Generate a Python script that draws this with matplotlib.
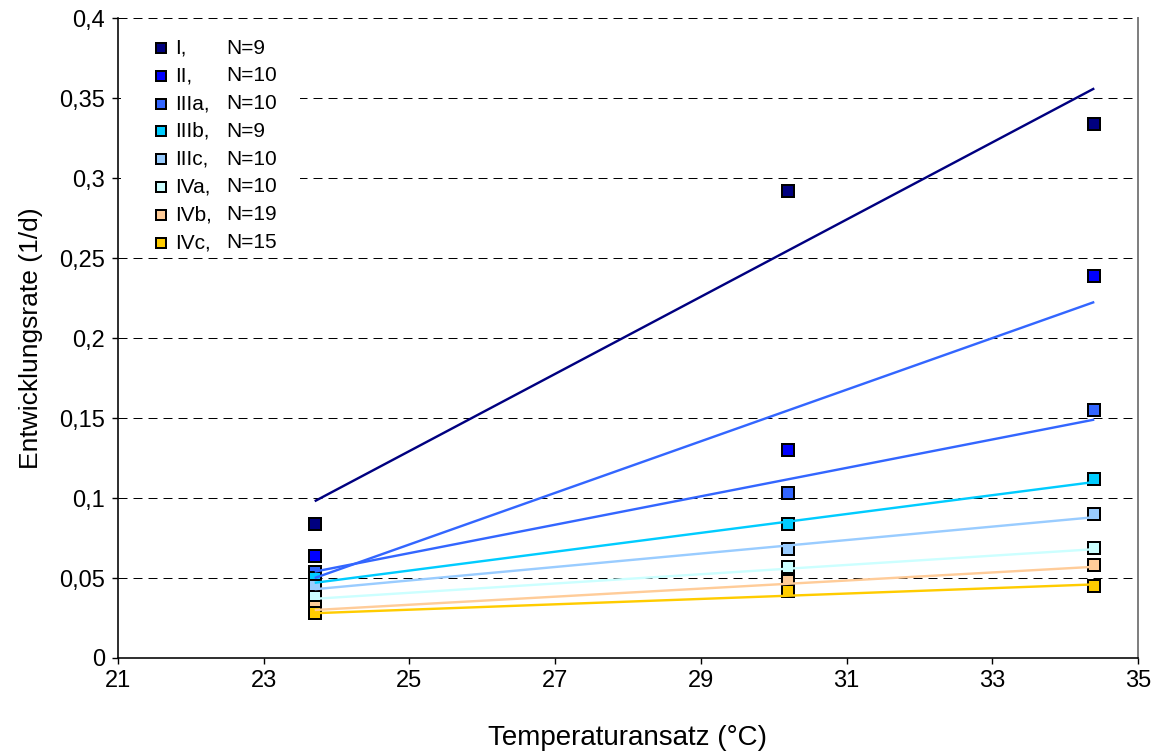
import matplotlib
matplotlib.use("Agg")
import matplotlib.pyplot as plt
from matplotlib.ticker import FuncFormatter
from matplotlib.lines import Line2D
from matplotlib.patches import Rectangle

# Temperature levels of the rearing trials (°C)
temps = [23.7, 30.2, 34.4]

# Developmental stages, sample sizes and colours
groups = ["I,", "II,", "IIIa,", "IIIb,", "IIIc,", "IVa,", "IVb,", "IVc,"]
n_obs = [9, 10, 10, 9, 10, 10, 19, 15]
colors = ["#000080", "#0000FF", "#3366FF", "#00CCFF",
          "#99CCFF", "#CCFFFF", "#FFCC99", "#FFCC00"]
trend_colors = ["#000080", "#3366FF", "#3366FF", "#00CCFF",
                "#99CCFF", "#CCFFFF", "#FFCC99", "#FFCC00"]

# Mean development rates (1/d) per stage at each temperature
rate_I = [0.084, 0.292, 0.334]
rate_II = [0.064, 0.130, 0.239]
rate_IIIa = [0.054, 0.103, 0.155]
rate_IIIb = [0.050, 0.084, 0.112]
rate_IIIc = [0.045, 0.068, 0.090]
rate_IVa = [0.038, 0.057, 0.069]
rate_IVb = [0.032, 0.048, 0.058]
rate_IVc = [0.028, 0.042, 0.045]
rates = [rate_I, rate_II, rate_IIIa, rate_IIIb,
         rate_IIIc, rate_IVa, rate_IVb, rate_IVc]

# Linear trend values at the lowest and highest temperature
trend_low = [0.098, 0.050, 0.054, 0.047, 0.043, 0.037, 0.030, 0.028]
trend_high = [0.356, 0.2225, 0.149, 0.110, 0.088, 0.068, 0.057, 0.046]

x_ticks = [21, 23, 25, 27, 29, 31, 33, 35]
y_ticks = [0, 0.05, 0.1, 0.15, 0.2, 0.25, 0.3, 0.35, 0.4]

plt.rcParams["font.family"] = ["Liberation Sans", "DejaVu Sans"]
plt.rcParams["lines.scale_dashes"] = False

PX = 0.72  # points per pixel at 100 dpi

fig = plt.figure(figsize=(11.6, 7.53), dpi=100)
ax = fig.add_axes([118 / 1160, 1 - 658 / 753, 1020 / 1160, 640 / 753])

ax.set_xlim(21, 35)
ax.set_ylim(0, 0.4)
ax.set_xticks(x_ticks)
ax.set_yticks(y_ticks)
ax.yaxis.set_major_formatter(FuncFormatter(lambda v, _: f"{v:g}".replace(".", ",")))

for lab in ax.get_xticklabels():
    lab.set_fontsize(17)
for lab in ax.get_yticklabels():
    lab.set_fontsize(17)

ax.tick_params(axis="y", direction="out", length=6 * PX, width=1.0, pad=5, colors="black")
ax.tick_params(axis="x", direction="out", length=6 * PX, width=1.0, pad=4, colors="black")

ax.yaxis.grid(True, color="black", linewidth=1.0 * PX, linestyle=(0, (9 * PX, 6 * PX)))
ax.xaxis.grid(False)
ax.set_axisbelow(True)

ax.spines["top"].set_visible(False)
ax.spines["right"].set_color("#808080")
ax.spines["right"].set_linewidth(2 * PX)
ax.spines["left"].set_linewidth(1.6 * PX)
ax.spines["bottom"].set_linewidth(1.6 * PX)

# Mean values as square markers
for vals, col in zip(rates, colors):
    ax.plot(temps, vals, linestyle="none", marker="s", markersize=12 * PX,
            markerfacecolor=col, markeredgecolor="black", markeredgewidth=2.0 * PX,
            zorder=3, clip_on=False)

# Linear trend lines across the temperature range
for lo, hi, col in zip(trend_low, trend_high, trend_colors):
    ax.plot([temps[0], temps[-1]], [lo, hi], color=col, linewidth=2.4 * PX,
            zorder=4, solid_capstyle="butt")

ax.set_xlabel("Temperaturansatz (°C)", fontsize=20, labelpad=24)
ax.set_ylabel("Entwicklungsrate (1/d)", fontsize=19, labelpad=12)

# Legend block in the upper left corner, on an opaque white box
def ax_x(px):
    return (px - 118) / 1020

def ax_y(py):
    return 1 - (py - 18) / 640

ax.add_patch(Rectangle((ax_x(121), ax_y(253)), ax_x(300) - ax_x(121), ax_y(26) - ax_y(253),
                       transform=ax.transAxes, facecolor="white", edgecolor="none",
                       zorder=2.5))
row0 = ax_y(48)
step = 27.8 / 640
for i, (g, n, col) in enumerate(zip(groups, n_obs, colors)):
    yy = row0 - i * step
    ax.add_line(Line2D([ax_x(160.5)], [yy], transform=ax.transAxes, linestyle="none",
                       marker="s", markersize=10 * PX, markerfacecolor=col,
                       markeredgecolor="black", markeredgewidth=2.0 * PX,
                       clip_on=False, zorder=5))
    ax.text(ax_x(175), yy, g, transform=ax.transAxes, fontsize=15, va="center",
            ha="left", zorder=5)
    ax.text(ax_x(226), yy, f"N={n}", transform=ax.transAxes, fontsize=15, va="center",
            ha="left", zorder=5)

fig.savefig("out.png", dpi=100)
